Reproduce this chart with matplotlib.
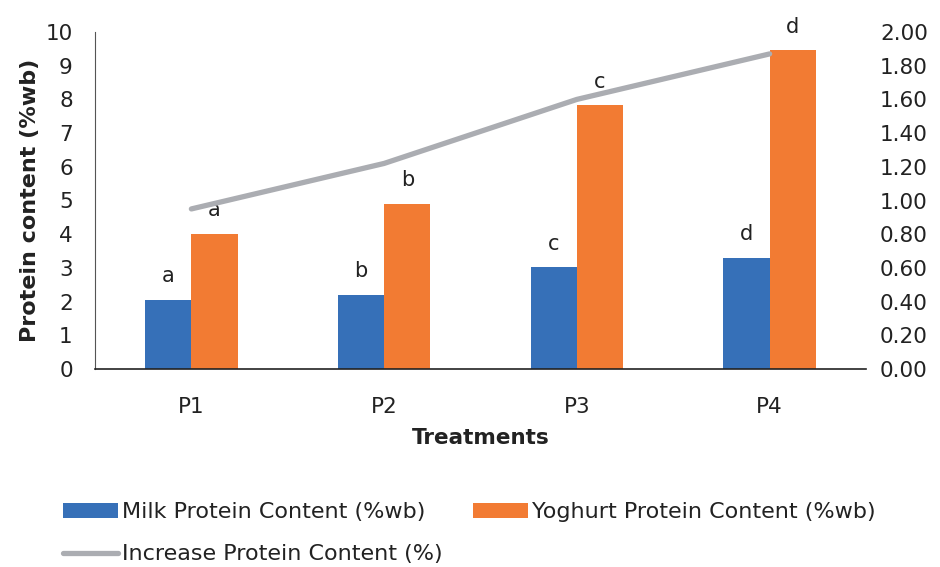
import matplotlib
matplotlib.use("Agg")
import matplotlib.pyplot as plt
import numpy as np

categories = ["P1", "P2", "P3", "P4"]
milk_protein = [2.05, 2.20, 3.02, 3.30]
yoghurt_protein = [4.02, 4.90, 7.82, 9.46]
increase_protein = [0.95, 1.22, 1.60, 1.87]
milk_letters = ["a", "b", "c", "d"]
yoghurt_letters = ["a", "b", "c", "d"]

blue = "#3670B8"
orange = "#F27B33"
grey = "#ABADB2"
text_col = "#222222"

plt.rcParams["font.family"] = ["DejaVu Sans"]

fig = plt.figure(figsize=(9.4, 5.67), dpi=100)
ax = fig.add_axes([95 / 940, 198 / 567, 771 / 940, 337 / 567])
ax2 = ax.twinx()

x = np.arange(len(categories))
w = 0.24
b1 = ax.bar(x - w / 2, milk_protein, w, color=blue, label="Milk Protein Content (%wb)", zorder=2)
b2 = ax.bar(x + w / 2, yoghurt_protein, w, color=orange, label="Yoghurt Protein Content (%wb)", zorder=2)

for xi, v, t in zip(x - w / 2, milk_protein, milk_letters):
    ax.text(xi, v + 0.4, t, ha="center", va="bottom", fontsize=15, color=text_col)
for xi, v, t in zip(x + w / 2, yoghurt_protein, yoghurt_letters):
    ax.text(xi, v + 0.4, t, ha="center", va="bottom", fontsize=15, color=text_col)

ln, = ax2.plot(x, increase_protein, color=grey, lw=3.8, solid_capstyle="round",
               label="Increase Protein Content (%)", zorder=3)

ax.set_xlim(-0.5, 3.5)
ax.set_ylim(0, 10)
ax2.set_ylim(0, 2)
ax.set_yticks(range(0, 11))
ax2.set_yticks(np.arange(0, 2.01, 0.2))
ax2.set_yticklabels([f"{v:.2f}" for v in np.arange(0, 2.01, 0.2)])
ax.set_xticks(x)
ax.set_xticklabels(categories)

for a in (ax, ax2):
    for s in ("top", "right"):
        a.spines[s].set_visible(False)
    a.tick_params(length=0, labelsize=15.5, colors=text_col)
ax2.spines["left"].set_visible(False)
ax2.spines["bottom"].set_visible(False)
ax.spines["left"].set_color("#555555")
ax.spines["bottom"].set_color("#222222")
ax.spines["bottom"].set_linewidth(1.2)
ax.tick_params(axis="x", pad=20)
ax.tick_params(axis="y", pad=16)
ax2.tick_params(axis="y", pad=10)

ax.set_ylabel("Protein content (%wb)", fontsize=16, fontweight="bold", color=text_col, labelpad=4)
ax.set_xlabel("Treatments", fontsize=15.5, fontweight="bold", color=text_col, labelpad=8)

handles = [b1, ln, b2]
labels = [h.get_label() for h in handles]
leg = fig.legend(handles, labels, loc="upper left", bbox_to_anchor=(63 / 940, 1 - 502 / 567),
                 ncol=2, frameon=False, prop={"size": 16},
                 handlelength=2.48, handleheight=0.65, handletextpad=0.18, columnspacing=1.34,
                 labelspacing=1.0, labelcolor=text_col, borderaxespad=0, borderpad=0)

fig.savefig("out.png", dpi=100)
